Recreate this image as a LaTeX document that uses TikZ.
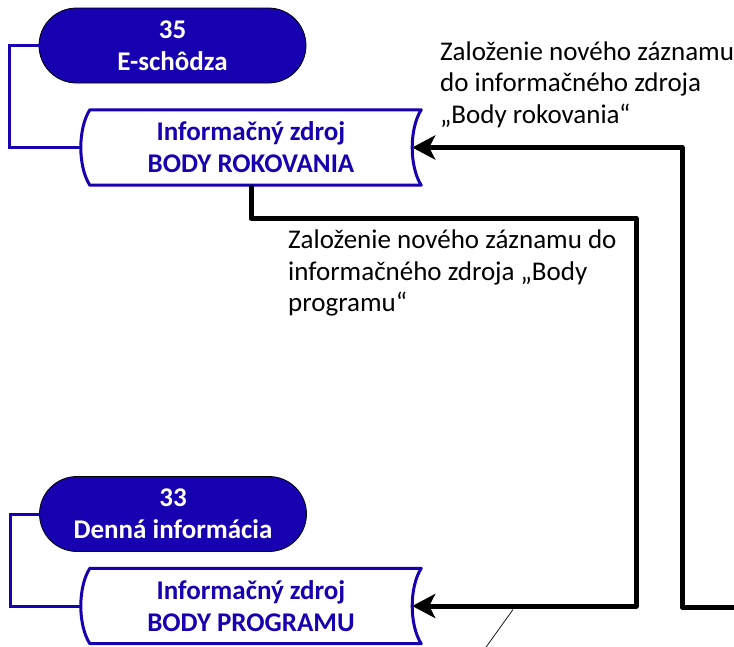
\documentclass[tikz,border=0pt]{standalone}
\usepackage{fontspec}
\setmainfont{Carlito}
\usepackage{tikz}
\usetikzlibrary{arrows.meta,shapes.misc}

\definecolor{modra}{RGB}{22,0,176}

% obrys informacneho zdroja
\newcommand{\obrys}[1]{%
  \draw[obrys] ([xshift=9pt]#1.north west) -- (#1.north east)
    .. controls ([xshift=-12pt,yshift=-19pt]#1.north east) and ([xshift=-12pt,yshift=19pt]#1.south east) .. (#1.south east)
    -- ([xshift=9pt]#1.south west)
    .. controls ([xshift=-3pt,yshift=19pt]#1.south west) and ([xshift=-3pt,yshift=-19pt]#1.north west) .. cycle;}

\begin{document}
\begin{tikzpicture}[x=1pt,y=-1pt,
    koniec/.style={rounded rectangle, draw=black, line width=0.8pt, fill=modra, text=white,
      font=\bfseries\fontsize{27}{32}\selectfont, align=center,
      minimum width=267pt, minimum height=75pt, inner sep=0pt},
    zdroj/.style={rectangle, text=modra, font=\bfseries\fontsize{27}{32}\selectfont, align=center,
      minimum width=340pt, minimum height=75pt, inner sep=0pt},
    obrys/.style={draw=modra, line width=3pt, line join=round},
    spoj/.style={draw=modra, line width=3pt},
    tok/.style={-{Stealth[length=23pt,width=24pt,inset=6pt]}, line width=5pt, line join=round},
    popis/.style={anchor=north west, align=left, inner sep=0pt, font=\fontsize{27}{31.5}\selectfont}]
        \useasboundingbox (0,0) rectangle (734,646);

        \node[koniec] (t35) at (172.5,45.5) {35\\E-schôdza};
        \node[zdroj] (zr35) at (251,147.5) {Informačný zdroj\\BODY ROKOVANIA};
        \obrys{zr35}

        \node[koniec] (t33) at (173,514) {33\\Denná informácia};
        \node[zdroj] (zr33) at (251,606) {Informačný zdroj\\BODY PROGRAMU};
        \obrys{zr33}

        \node[popis] (p35) at (440,41.5) {Založenie nového záznamu\\do informačného zdroja\\„Body rokovania“};
        \node[popis] (p33) at (288,230) {Založenie nového záznamu do\\informačného zdroja „Body\\programu“};

        \coordinate (vstup) at (740,607);
        \coordinate (odkaz) at (513,609.5);
        \coordinate (odkazK) at (484,650);

        \draw[spoj] (t35.west) -- ++(-29,0) |- (zr35.west);
        \draw[spoj] (t33.west) -- ++(-29,0) |- (zr33.west);

        \draw[tok] (vstup) -- ++(-58,0) |- ([xshift=-9pt]zr35.east);
        \draw[tok] (zr35.south) |- ++(385,33) |- ([xshift=-9pt]zr33.east);

        \draw[line width=0.7pt] (odkaz) -- (odkazK);
\end{tikzpicture}
\end{document}
